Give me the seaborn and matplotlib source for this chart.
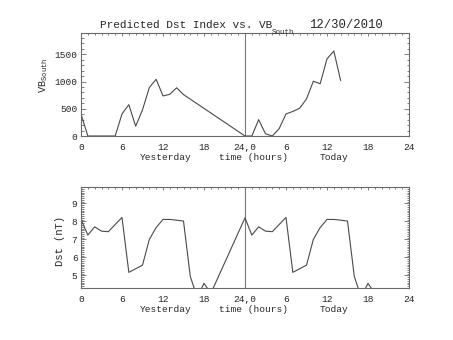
import matplotlib
matplotlib.use("Agg")
import matplotlib.pyplot as plt
import numpy as np
import pandas as pd
import seaborn as sns

# ---- data -------------------------------------------------------------
hours_vb_yesterday = [0, 1, 2, 3, 4, 5, 6, 7, 8, 9, 10, 11, 12, 13, 14, 15]
vb_yesterday = [405, 0, 0, 0, 0, 0, 405, 575, 180, 480, 890, 1040, 735, 765, 885, 760]
hours_vb_today = [0, 1, 2, 3, 4, 5, 6, 7, 8, 9, 10, 11, 12, 13, 14]
vb_today = [0, 0, 300, 40, 0, 135, 405, 450, 510, 680, 1005, 960, 1415, 1560, 1015]

hours_dst_yesterday = list(range(20))
dst_yesterday = [8.12, 7.24, 7.70, 7.46, 7.43, 7.83, 8.22, 5.17, 5.37, 5.57,
                 7.00, 7.66, 8.11, 8.11, 8.07, 8.02, 4.93, 3.80, 4.56, 4.00]
hours_dst_today = list(range(20))
dst_today = [8.20, 7.24, 7.70, 7.46, 7.43, 7.83, 8.22, 5.17, 5.37, 5.57,
             7.00, 7.66, 8.11, 8.11, 8.07, 8.02, 4.93, 3.80, 4.56, 4.00]

xtick_pos = [0, 6, 12, 18, 24, 30, 36, 42, 48]
xtick_labels = ["0", "6", "12", "18", "24,0", "6", "12", "18", "24"]
day_labels = [("Yesterday", 12.4), ("time (hours)", 25.2), ("Today", 37.1)]

vb_ticks = [0, 500, 1000, 1500]
dst_ticks = [5, 6, 7, 8, 9]

# ---- style ------------------------------------------------------------
sns.set_style("white")
plt.rcParams["font.family"] = ["Liberation Mono", "DejaVu Sans"]
plt.rcParams["mathtext.fontset"] = "custom"
plt.rcParams["mathtext.rm"] = "Liberation Mono"
plt.rcParams["mathtext.it"] = "Liberation Mono"
plt.rcParams["mathtext.bf"] = "Liberation Mono"

TXT = "#262626"
AX = "#6a6a6a"
LINE = "#4a4a4a"

W, H = 453, 340
fig = plt.figure(figsize=(W / 100, H / 100), dpi=100)


def frame(top, bottom):
    return [81 / W, 1 - bottom / H, 328 / W, (bottom - top) / H]


ax1 = fig.add_axes(frame(33, 136))
ax2 = fig.add_axes(frame(186.7, 288))

vb_df = pd.DataFrame({
    "hour": hours_vb_yesterday + [h + 24 for h in hours_vb_today],
    "vb": vb_yesterday + vb_today,
})
dst_df = pd.DataFrame({
    "hour": hours_dst_yesterday + [h + 24 for h in hours_dst_today],
    "dst": dst_yesterday + dst_today,
})

sns.lineplot(data=vb_df, x="hour", y="vb", ax=ax1, estimator=None, sort=False,
             color=LINE, linewidth=0.8)
sns.lineplot(data=dst_df, x="hour", y="dst", ax=ax2, estimator=None, sort=False,
             color=LINE, linewidth=0.8)

ax1.set_ylim(0, 1890)
ax2.set_ylim(4.3, 9.93)
ax1.set_yticks(vb_ticks)
ax1.set_yticks(np.arange(0, 1890, 100), minor=True)
ax2.set_yticks(dst_ticks)
ax2.set_yticks(np.arange(4.4, 9.93, 0.1), minor=True)

for ax in (ax1, ax2):
    ax.axvline(24, color="#7a7a7a", linewidth=0.8, zorder=1)
    ax.set_xlim(0, 48)
    ax.set_xticks(xtick_pos)
    ax.set_xticklabels(xtick_labels)
    ax.set_xticks(range(0, 49), minor=True)
    ax.set_xlabel("")
    ax.set_ylabel("")
    for s in ax.spines.values():
        s.set_visible(True)
        s.set_color(AX)
        s.set_linewidth(0.8)
    ax.tick_params(axis="x", which="both", direction="in", bottom=False, top=True,
                   labelbottom=True, labeltop=False, color=AX, labelcolor=TXT,
                   labelsize=6.8, pad=5.3)
    ax.tick_params(axis="x", which="major", length=2.2, width=0.6)
    ax.tick_params(axis="x", which="minor", length=1.6, width=0.6)
    ax.tick_params(axis="y", which="both", direction="in", left=True, right=True,
                   color=AX, labelcolor=TXT, labelsize=6.8, pad=2.5)
    ax.tick_params(axis="y", which="major", length=3.8, width=0.6)
    ax.tick_params(axis="y", which="minor", length=1.8, width=0.6)
    for label, xh in day_labels:
        ax.annotate(label, xy=(xh, 0), xycoords=("data", "axes fraction"),
                    xytext=(0, -15.6), textcoords="offset points",
                    ha="center", va="center", fontsize=6.8, color=TXT)


def fx(px):
    return px / W


def fy(py):
    return 1 - py / H


# title pieces
fig.text(fx(100), fy(28.5), "Predicted Dst Index vs. VB", fontsize=8.0,
         color=TXT, ha="left", va="baseline")
fig.text(fx(272), fy(34.5), "South", fontsize=5.4, color=TXT,
         ha="left", va="baseline")
fig.text(fx(309), fy(28.5), "12/30/2010", fontsize=8.8, color=TXT,
         ha="left", va="baseline")

# y-axis titles
fig.text(fx(44), fy(75), r"VB$_{\mathrm{South}}$", rotation=90, fontsize=7.4,
         color=TXT, ha="center", va="center")
fig.text(fx(60), fy(241.5), "Dst (nT)", rotation=90, fontsize=7.6,
         color=TXT, ha="center", va="center")

fig.savefig("out.png", dpi=100, facecolor="white")
